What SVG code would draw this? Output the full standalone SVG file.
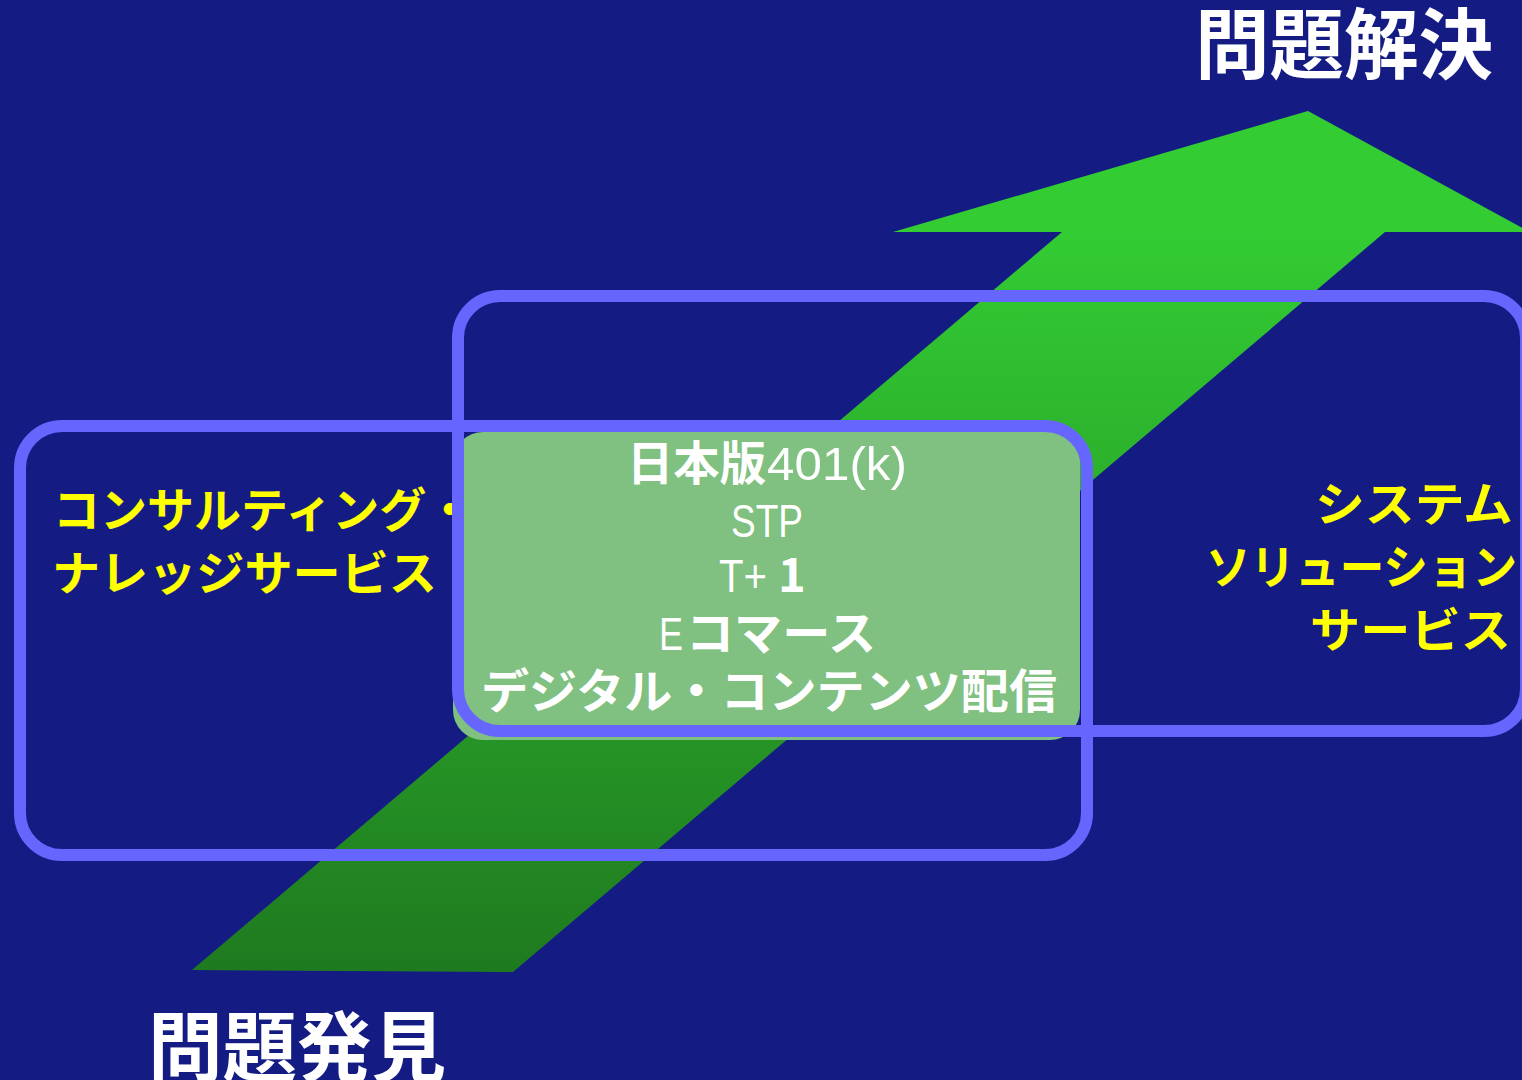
<svg xmlns="http://www.w3.org/2000/svg" width="1522" height="1080" viewBox="0 0 1522 1080">
<defs>
<linearGradient id="arrowGrad" gradientUnits="userSpaceOnUse" x1="0" y1="232" x2="0" y2="972">
<stop offset="0" stop-color="#33CC33"/>
<stop offset="1" stop-color="#1F7A1F"/>
</linearGradient>
<style>
.jp{font-family:"Noto Sans CJK JP","Noto Sans",sans-serif;font-weight:bold}
.narrow{font-family:"Liberation Sans","Noto Sans",sans-serif;font-weight:normal}
.title{fill:#FFFFFF;font-size:77px}
.yel{fill:#FFFF00;font-size:47px}
.wht{fill:#FFFFFF;font-size:47px}
.outline{fill:none;stroke:#6666FF;stroke-width:12}
</style>
</defs>
<rect x="0" y="0" width="1522" height="1080" fill="#141C84"/>
<g id="arrow">
<polygon points="192,970 513,972 1385,232 1530,232 1308,111 893,232 1062,232" fill="url(#arrowGrad)"/>
</g>
<g id="title-top">
<text class="jp title" x="1195" y="73" textLength="298" lengthAdjust="spacingAndGlyphs">問題解決</text>
</g>
<g id="title-bottom">
<text class="jp title" x="148" y="1076" textLength="298" lengthAdjust="spacingAndGlyphs">問題発見</text>
</g>
<g id="left-label">
<text class="jp yel" x="53" y="527">コンサルティング・</text>
<text class="jp yel" x="52" y="590" textLength="385" lengthAdjust="spacingAndGlyphs">ナレッジサービス</text>
</g>
<g id="center-box">
<rect x="453" y="432" width="627" height="308" rx="30" ry="30" fill="#80C080"/>
<text class="jp wht" x="627" y="480" textLength="139" lengthAdjust="spacingAndGlyphs">日本版</text>
<text class="narrow wht" x="767" y="480" textLength="140" lengthAdjust="spacingAndGlyphs">401(k)</text>
<text class="narrow wht" x="731" y="537" textLength="72" lengthAdjust="spacingAndGlyphs">STP</text>
<text class="narrow wht" x="719" y="592" textLength="48" lengthAdjust="spacingAndGlyphs">T+</text>
<text class="jp wht" x="778" y="592" font-size="47">1</text>
<text class="narrow wht" x="659" y="650" textLength="24" lengthAdjust="spacingAndGlyphs">E</text>
<text class="jp wht" x="686" y="650" textLength="190" lengthAdjust="spacingAndGlyphs">コマース</text>
<text class="jp wht" x="481" y="708" textLength="576" lengthAdjust="spacingAndGlyphs">デジタル・コンテンツ配信</text>
</g>
<g id="right-label">
<text class="jp yel" x="1315" y="521" textLength="198" lengthAdjust="spacingAndGlyphs">システム</text>
<text class="jp yel" x="1206" y="584" textLength="311" lengthAdjust="spacingAndGlyphs">ソリューション</text>
<text class="jp yel" x="1310" y="647" textLength="201" lengthAdjust="spacingAndGlyphs">サービス</text>
</g>
<g id="connectors"></g>
<g id="left-box">
<rect class="outline" x="20" y="426" width="1067" height="429" rx="42" ry="42"/>
</g>
<g id="right-box">
<rect class="outline" x="458" y="296" width="1068" height="435" rx="42" ry="42"/>
</g>
</svg>
